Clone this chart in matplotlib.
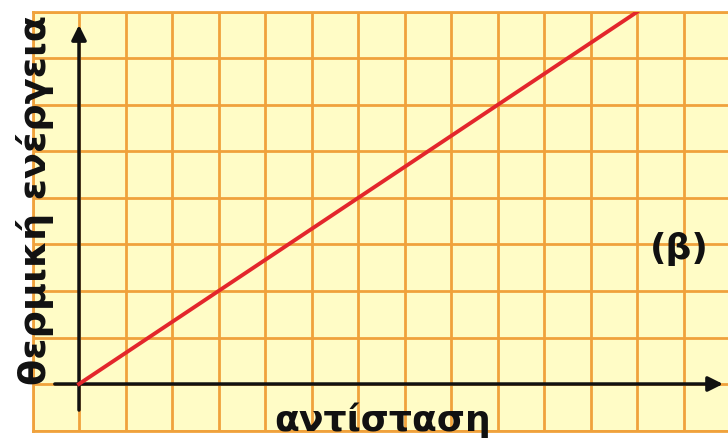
import numpy as np
import matplotlib
matplotlib.use("Agg")
import matplotlib.pyplot as plt

# data (grid units)
resistance = [0, 12]
heat = [0, 8]
x_label = "αντίσταση"
y_label = "θερμική ενέργεια"
panel = "(β)"

grid_color = "#F0A23C"
bg_color = "#FFFCC6"
line_color = "#E3262B"

fig = plt.figure(figsize=(7.28, 4.43), dpi=100)
fig.patch.set_facecolor("white")

# axes placed so that one grid cell is ~46.5 px
ax = fig.add_axes([32.5 / 728, 12.5 / 443, (728 - 32.5) / 728, (430.5 - 12) / 443])
ax.set_facecolor(bg_color)
ax.set_xlim(-1, (728 - 79) / 46.5)
ax.set_ylim(-1, 8)
ax.set_xticks(np.arange(-1, 14))
ax.set_yticks(np.arange(-1, 9))
ax.tick_params(length=0, labelbottom=False, labelleft=False)
ax.grid(True, color=grid_color, lw=2)
for side in ["top", "left", "bottom"]:
    ax.spines[side].set_color(grid_color)
    ax.spines[side].set_linewidth(2)
ax.spines["right"].set_visible(False)

# axis arrows
ax.annotate("", xy=(13.85, 0), xytext=(-0.52, 0),
            arrowprops=dict(arrowstyle="-|>", color="#111111", lw=2.5,
                            mutation_scale=22, shrinkA=0, shrinkB=0),
            annotation_clip=False)
ax.annotate("", xy=(0, 7.72), xytext=(0, -0.56),
            arrowprops=dict(arrowstyle="-|>", color="#111111", lw=2.5,
                            mutation_scale=22, shrinkA=0, shrinkB=0),
            annotation_clip=False)

ax.plot(resistance, heat, color=line_color, lw=2.8, zorder=3)

ax.text(6.54, -1, x_label, ha="center", va="baseline", fontsize=26,
        fontweight="bold", color="#111111", clip_on=False)
ax.text(-0.72, 3.96, y_label, rotation=90, rotation_mode="anchor",
        ha="center", va="baseline", fontsize=27.5, fontweight="bold",
        color="#111111", clip_on=False)
ax.text(12.92, 2.9, panel, ha="center", va="center", fontsize=26,
        fontweight="bold", color="#111111")

fig.savefig("out.png", dpi=100, facecolor="white")
